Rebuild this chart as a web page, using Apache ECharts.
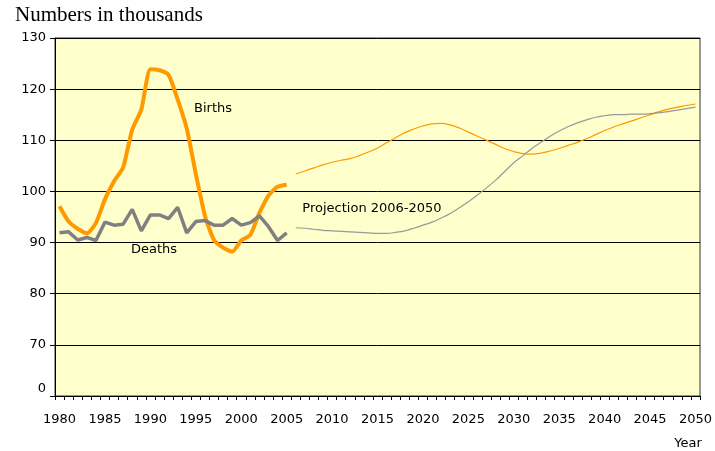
<!DOCTYPE html>
<html lang="en">
<head>
    <meta charset="UTF-8">
    <title>Births and deaths</title>
    <style>
        html, body { margin: 0; padding: 0; background: #fff; }
        #chart { width: 715px; height: 451px; }
    </style>
</head>
<body>
    <div id="chart"></div>
    <script src="https://cdn.jsdelivr.net/npm/echarts@6/dist/echarts.min.js"></script>
    <script type="text/javascript">
        // years on the x axis
        var years = ['1980', '1981', '1982', '1983', '1984', '1985', '1986', '1987', '1988', '1989',
            '1990', '1991', '1992', '1993', '1994', '1995', '1996', '1997', '1998', '1999',
            '2000', '2001', '2002', '2003', '2004', '2005', '2006', '2007', '2008', '2009',
            '2010', '2011', '2012', '2013', '2014', '2015', '2016', '2017', '2018', '2019',
            '2020', '2021', '2022', '2023', '2024', '2025', '2026', '2027', '2028', '2029',
            '2030', '2031', '2032', '2033', '2034', '2035', '2036', '2037', '2038', '2039',
            '2040', '2041', '2042', '2043', '2044', '2045', '2046', '2047', '2048', '2049', '2050'];

        // 1980-2005, thousands
        var birthsHist = [97.1, 94.1, 92.7, 91.8, 93.8, 98.5, 102.0, 104.7, 112.1, 116.0,
            123.9, 123.7, 122.8, 118.0, 112.3, 103.4, 95.3, 90.5, 89.0, 88.2,
            90.4, 91.5, 95.8, 99.2, 100.9, 101.3];
        var deathsHist = [91.9, 92.1, 90.5, 91.0, 90.4, 94.0, 93.4, 93.6, 96.5, 92.3,
            95.4, 95.4, 94.7, 96.9, 91.9, 94.1, 94.3, 93.4, 93.4, 94.7,
            93.4, 93.9, 95.2, 93.1, 90.4, 91.9];

        // projection 2006-2050
        var birthsProj = [103.4, 104.0, 104.6, 105.2, 105.7, 106.1, 106.4, 107.0, 107.7, 108.5,
            109.5, 110.5, 111.5, 112.2, 112.8, 113.2, 113.3, 113.0, 112.4, 111.6,
            110.8, 110.0, 109.2, 108.4, 107.8, 107.4, 107.3, 107.5, 107.9, 108.4,
            109.0, 109.6, 110.3, 111.1, 111.9, 112.6, 113.2, 113.8, 114.4, 115.0,
            115.6, 116.1, 116.5, 116.8, 117.1];
        var deathsProj = [92.9, 92.8, 92.6, 92.4, 92.3, 92.2, 92.1, 92.0, 91.9, 91.8,
            91.8, 92.0, 92.3, 92.8, 93.4, 94.0, 94.8, 95.7, 96.8, 98.0,
            99.3, 100.7, 102.2, 103.9, 105.6, 107.0, 108.4, 109.6, 110.8, 111.8,
            112.7, 113.4, 114.0, 114.5, 114.8, 115.0, 115.0, 115.1, 115.1, 115.2,
            115.4, 115.6, 115.9, 116.2, 116.5];

        // y axis is broken: the bottom tick (60) is labelled 0
        var yTickLabels = { 60: '0', 70: '70', 80: '80', 90: '90', 100: '100', 110: '110', 120: '120', 130: '130' };

        function padHist(arr) {
            return arr.concat(new Array(years.length - arr.length).fill(null));
        }
        function padProj(arr) {
            return new Array(years.length - arr.length).fill(null).concat(arr);
        }

        var chart = echarts.init(document.getElementById('chart'));
        var font = 'DejaVu Sans';

        var option = {
            animation: false,
            grid: {
                left: 55, right: 9, top: 38, bottom: 55,
                show: true,
                backgroundColor: '#FFFFCC',
                borderColor: '#333',
                borderWidth: 1
            },
            xAxis: {
                type: 'category',
                data: years,
                boundaryGap: true,
                axisLine: { lineStyle: { color: '#000', width: 1 } },
                axisTick: { show: true, interval: 0, length: 4, lineStyle: { color: '#000' } },
                axisLabel: {
                    interval: 4,
                    margin: 17,
                    color: '#000',
                    fontFamily: font,
                    fontSize: 13
                },
                splitLine: { show: false }
            },
            yAxis: {
                type: 'value',
                min: 60,
                max: 130,
                interval: 10,
                axisLine: { show: true, lineStyle: { color: '#000', width: 1 } },
                axisTick: { show: true, length: 5, lineStyle: { color: '#000' } },
                axisLabel: {
                    margin: 9,
                    color: '#000',
                    fontFamily: font,
                    fontSize: 13,
                    formatter: function (v) {
                        return v === 60 ? '{z|0}' : yTickLabels[v];
                    },
                    rich: {
                        z: { fontFamily: font, fontSize: 13, color: '#000', padding: [0, 0, 14, 0] }
                    }
                },
                splitLine: { show: true, lineStyle: { color: '#000', width: 1 } }
            },
            series: [
                {
                    name: 'Births',
                    type: 'line',
                    data: padHist(birthsHist),
                    showSymbol: false,
                    smooth: 0.2,
                    lineStyle: { color: '#FF9900', width: 4 },
                    itemStyle: { color: '#FF9900' }
                },
                {
                    name: 'Deaths',
                    type: 'line',
                    data: padHist(deathsHist),
                    showSymbol: false,
                    lineStyle: { color: '#808080', width: 3.5 },
                    itemStyle: { color: '#808080' }
                },
                {
                    name: 'Births projection',
                    type: 'line',
                    data: padProj(birthsProj),
                    showSymbol: false,
                    smooth: 0.4,
                    lineStyle: { color: '#FF9900', width: 1.2 },
                    itemStyle: { color: '#FF9900' }
                },
                {
                    name: 'Deaths projection',
                    type: 'line',
                    data: padProj(deathsProj),
                    showSymbol: false,
                    smooth: 0.4,
                    lineStyle: { color: '#999999', width: 1.2 },
                    itemStyle: { color: '#999999' }
                }
            ],
            graphic: [
                {
                    type: 'text', left: 15, top: 5,
                    style: { text: 'Numbers in thousands', font: '21px "Liberation Serif"', fill: '#000' }
                },
                {
                    type: 'text', x: 213, y: 109,
                    style: { text: 'Births', font: '13px "DejaVu Sans"', fill: '#000', align: 'center', verticalAlign: 'middle' }
                },
                {
                    type: 'text', x: 154, y: 250,
                    style: { text: 'Deaths', font: '13px "DejaVu Sans"', fill: '#000', align: 'center', verticalAlign: 'middle' }
                },
                {
                    type: 'text', x: 372, y: 209,
                    style: { text: 'Projection 2006-2050', font: '13px "DejaVu Sans"', fill: '#000', align: 'center', verticalAlign: 'middle' }
                },
                {
                    type: 'text', x: 688, y: 444,
                    style: { text: 'Year', font: '13px "DejaVu Sans"', fill: '#000', align: 'center', verticalAlign: 'middle' }
                }
            ]
        };

        chart.setOption(option);
    </script>
</body>
</html>
